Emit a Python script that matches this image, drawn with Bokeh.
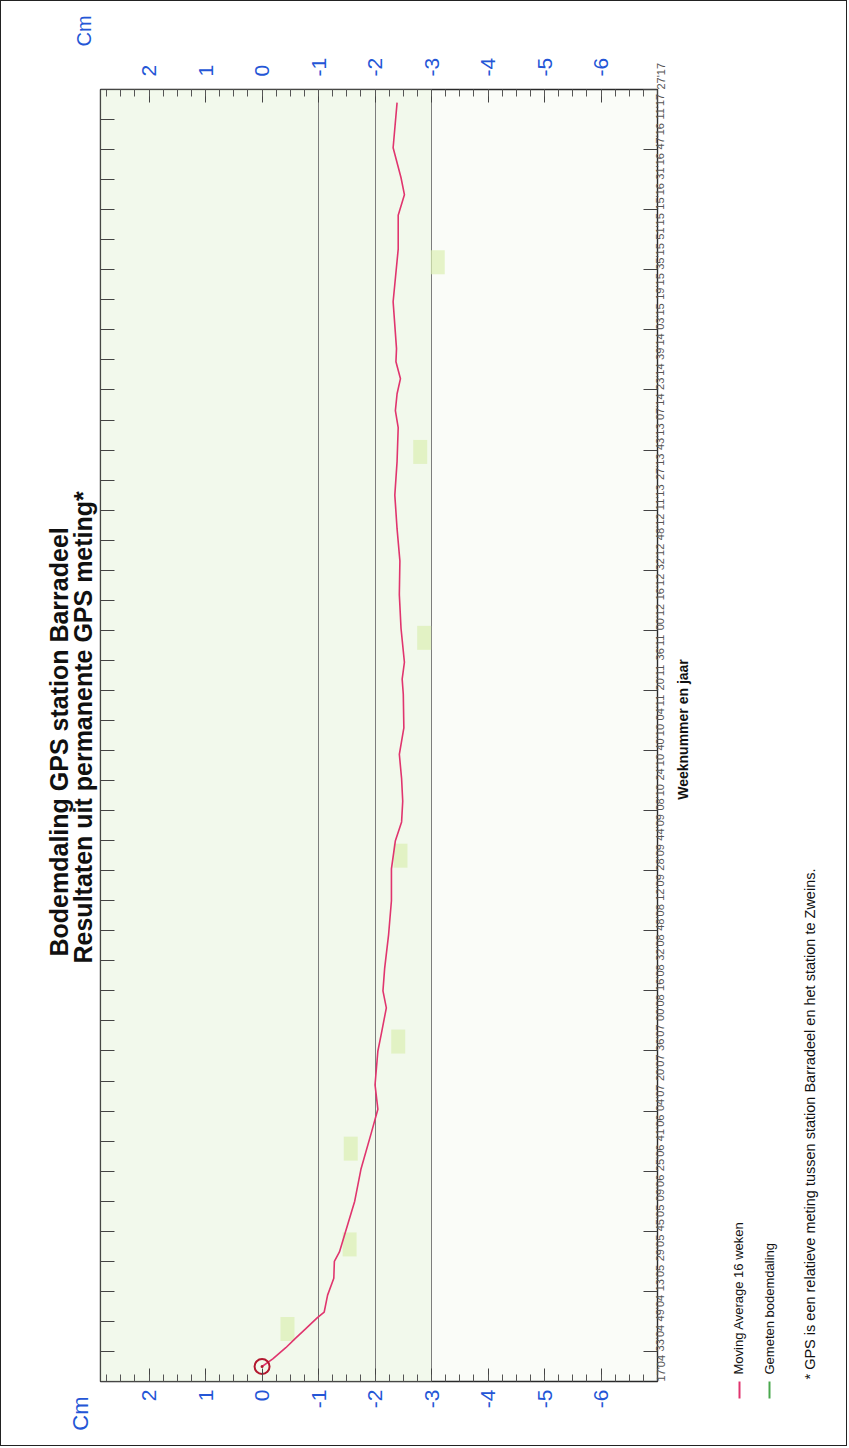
import math
from bokeh.plotting import figure
from bokeh.layouts import row
from bokeh.models import (Range1d, LinearAxis, FixedTicker, BoxAnnotation,
                          ColumnDataSource, Grid)
from bokeh.core.properties import value
from bokeh.embed import file_html
from bokeh.resources import INLINE

# ---------------- data ----------------
week_labels = ["17'04", "33'04", "49'04", "13'05", "29'05", "45'05", "09'06", "25'06",
               "41'06", "04'07", "20'07", "36'07", "00'08", "16'08", "32'08", "48'08",
               "12'09", "28'09", "44'09", "08'10", "24'10", "40'10", "04'11", "20'11",
               "36'11", "00'12", "16'12", "32'12", "48'12", "11'13", "27'13", "43'13",
               "07'14", "23'14", "39'14", "03'15", "19'15", "35'15", "51'15", "15'16",
               "31'16", "47'16", "11'17", "27'17"]
label_step = 16  # weeks between labels

# Moving average 16 weken (week index since 17'04, cm)
ma_weeks = [8, 12, 18, 23, 28, 34, 37, 46, 55, 64, 69, 78, 96, 113, 132, 145, 158, 176,
            185, 199, 208, 220, 238, 256, 273, 288, 298, 309, 321, 334, 348, 366, 374,
            383, 401, 419, 437, 454, 472, 490, 508, 517, 526, 534, 543, 550, 575, 603,
            621, 632, 641, 657, 681]
ma_values = [0.0, -0.19, -0.42, -0.59, -0.77, -0.98, -1.10, -1.16, -1.27, -1.28, -1.37,
             -1.46, -1.64, -1.75, -1.93, -2.05, -2.00, -2.05, -2.11, -2.20, -2.14, -2.17,
             -2.24, -2.29, -2.29, -2.36, -2.47, -2.49, -2.47, -2.43, -2.51, -2.50, -2.48,
             -2.52, -2.46, -2.43, -2.44, -2.39, -2.35, -2.39, -2.41, -2.36, -2.39, -2.45,
             -2.37, -2.38, -2.32, -2.41, -2.41, -2.52, -2.46, -2.32, -2.39]

# Gemeten bodemdaling (highlighted marks)
meas_weeks = [28, 73, 124, 181, 280, 396, 495, 596]
meas_values = [-0.45, -1.55, -1.57, -2.41, -2.45, -2.87, -2.80, -3.11]

cm_ticks = [2, 1, 0, -1, -2, -3, -4, -5, -6, -7]
cm_labels = ["2", "1", "0", "-1", "-2", "-3", "-4", "-5", "-6", ""]
grid_cm = [-1, -2, -3]

title_1 = "Bodemdaling GPS station Barradeel"
title_2 = "Resultaten uit permanente GPS meting*"
x_title = "Weeknummer en jaar"
legend_ma = "Moving Average 16 weken"
legend_meas = "Gemeten bodemdaling"
footnote = "* GPS is een relatieve meting tussen station Barradeel en het station te Zweins."
unit_text = "Cm"

# ---------------- layout geometry (page pixels) ----------------
H = 1444
LEFT_W = 97          # left text strip
ML, MR = 2, 18       # main figure borders left/right
FW, FH = 557, 1292   # frame size
MT = 88
MB = H - MT - FH
MAIN_W = ML + FW + MR
RIGHT_W = 845 - LEFT_W - MAIN_W
RIGHT_X0 = LEFT_W + MAIN_W

hand_blue = "#2456d6"
ma_color = "#e0356e"
meas_color = "#4aa84e"
FONT = value("Liberation Sans")

# ---------------- main chart ----------------
p = figure(width=MAIN_W, height=H, x_range=Range1d(2.86, -7.0),
           y_range=Range1d(0, label_step * (len(week_labels) - 1)),
           output_backend="svg", toolbar_location=None,
           x_axis_location=None, y_axis_location=None,
           min_border_left=ML, min_border_top=MT, min_border_right=MR, min_border_bottom=MB)
p.xgrid.visible = False
p.ygrid.visible = False
p.background_fill_color = "#fafcf8"
p.border_fill_color = "white"
p.outline_line_color = "#2a2a2a"
p.outline_line_width = 1.4

p.add_layout(BoxAnnotation(right=-3, fill_color="#edf6e5", fill_alpha=0.6,
                           line_color=None, level="underlay"))
p.add_layout(Grid(dimension=0, ticker=FixedTicker(ticks=grid_cm),
                  grid_line_color="#7d7d7d", grid_line_width=1))

minor_cm = [2.75 - 0.25 * i for i in range(39)]
for side, standoff in (("above", 13), ("below", 8)):
    ax = LinearAxis(ticker=FixedTicker(ticks=cm_ticks, minor_ticks=minor_cm),
                    major_label_overrides={t: l for t, l in zip(cm_ticks, cm_labels)},
                    major_label_orientation=math.pi / 2,
                    major_tick_in=13, major_tick_out=0,
                    minor_tick_in=7, minor_tick_out=0,
                    major_tick_line_color="#444444", minor_tick_line_color="#555555",
                    axis_line_color=None,
                    major_label_text_color=hand_blue,
                    major_label_text_font="Liberation Sans",
                    major_label_text_font_size="21px",
                    major_label_standoff=standoff)
    p.add_layout(ax, side)

wk_ticks = [label_step * i for i in range(len(week_labels))]
ax_l = LinearAxis(ticker=FixedTicker(ticks=wk_ticks),
                  major_label_overrides={t: "" for t in wk_ticks},
                  major_label_text_font_size="1px", major_label_standoff=0,
                  major_tick_in=14, major_tick_out=0, minor_tick_line_color=None,
                  major_tick_line_color="#444444", axis_line_color=None)
p.add_layout(ax_l, "left")

ax_r = LinearAxis(ticker=FixedTicker(ticks=wk_ticks, minor_ticks=wk_ticks[1::2]),
                  major_label_overrides={t: l for t, l in zip(wk_ticks, week_labels)},
                  major_label_orientation=math.pi / 2,
                  major_tick_in=0, major_tick_out=0,
                  minor_tick_in=14, minor_tick_out=0, minor_tick_line_color="#444444",
                  axis_line_color=None,
                  major_label_text_color="#555555",
                  major_label_text_font="Liberation Sans",
                  major_label_text_font_size="11px",
                  major_label_standoff=3)
p.add_layout(ax_r, "right")

p.rect(x=meas_values, y=meas_weeks, width=14, height=24, width_units="screen",
       height_units="screen", fill_color="#dcefb4", fill_alpha=0.7, line_color=None)

src = ColumnDataSource(dict(w=ma_weeks, v=ma_values))
p.line(x="v", y="w", source=src, line_color=ma_color, line_width=1.6)
p.scatter(x=ma_values[:1], y=ma_weeks[:1], marker="circle", size=15, fill_color=None,
          line_color="#b3182f", line_width=2)
p.scatter(x=ma_values[:1], y=ma_weeks[:1], marker="circle", size=3, fill_color="#b3182f",
          line_color=None)


# ---------------- side strips for free text (page-pixel coordinates) ----------------
# In a row, the strips' frames line up with the main frame (page y MT .. MT+FH).
def strip(width, x0):
    f = figure(width=width, height=H, x_range=Range1d(x0, x0 + width),
               y_range=Range1d(MT + FH, MT),
               output_backend="svg", toolbar_location=None,
               x_axis_location=None, y_axis_location=None,
               min_border=0, min_border_left=0, min_border_right=0,
               min_border_top=0, min_border_bottom=0)
    f.xgrid.visible = False
    f.ygrid.visible = False
    f.outline_line_color = None
    f.background_fill_color = "white"
    f.border_fill_color = "white"
    return f


def txt(f, x, y, s, size="13px", color="#111111", style="normal", align="left"):
    f.text(x=[x], y=[y], text=[s], angle=math.pi / 2, text_font=FONT,
           text_font_size=value(size), text_font_style=style, text_color=color,
           text_align=align, text_baseline="middle")


def unit_axis(f, side, xpos, standoff, size):
    ax = LinearAxis(ticker=FixedTicker(ticks=[xpos], minor_ticks=[]),
                    major_label_overrides={xpos: unit_text},
                    major_label_orientation=math.pi / 2,
                    major_tick_in=0, major_tick_out=0, minor_tick_line_color=None,
                    major_tick_line_color=None, axis_line_color=None,
                    major_label_text_color=hand_blue,
                    major_label_text_font="Liberation Sans",
                    major_label_text_font_size=size,
                    major_label_standoff=standoff)
    f.add_layout(ax, side)


left = strip(LEFT_W, 0)
txt(left, 57, 955, title_1, size="25px", style="bold")
txt(left, 81, 962, title_2, size="25px", style="bold")
unit_axis(left, "above", 90, 43, "20px")
unit_axis(left, "below", 90, 15, "22px")

right = strip(RIGHT_W, RIGHT_X0)
txt(right, 681, 728, x_title, size="14px", style="bold", align="center")
txt(right, 737, 1373, legend_ma)
txt(right, 768, 1373, legend_meas)
txt(right, 808, 1378, footnote, size="14.5px")
# legend keys: short vertical strokes just below the strip frame
key_axis = LinearAxis(ticker=FixedTicker(ticks=[738], minor_ticks=[768]),
                      major_label_overrides={738: ""},
                      major_tick_in=0, major_tick_out=17, minor_tick_in=0, minor_tick_out=17,
                      major_tick_line_color=ma_color, major_tick_line_width=2,
                      minor_tick_line_color=meas_color, minor_tick_line_width=2,
                      axis_line_color=None, major_label_text_font_size="1px")
right.add_layout(key_axis, "below")

layout = row(left, p, right, spacing=0, styles={"border": "1px solid #222222"})
open("out.html", "w").write(file_html(layout, INLINE))
